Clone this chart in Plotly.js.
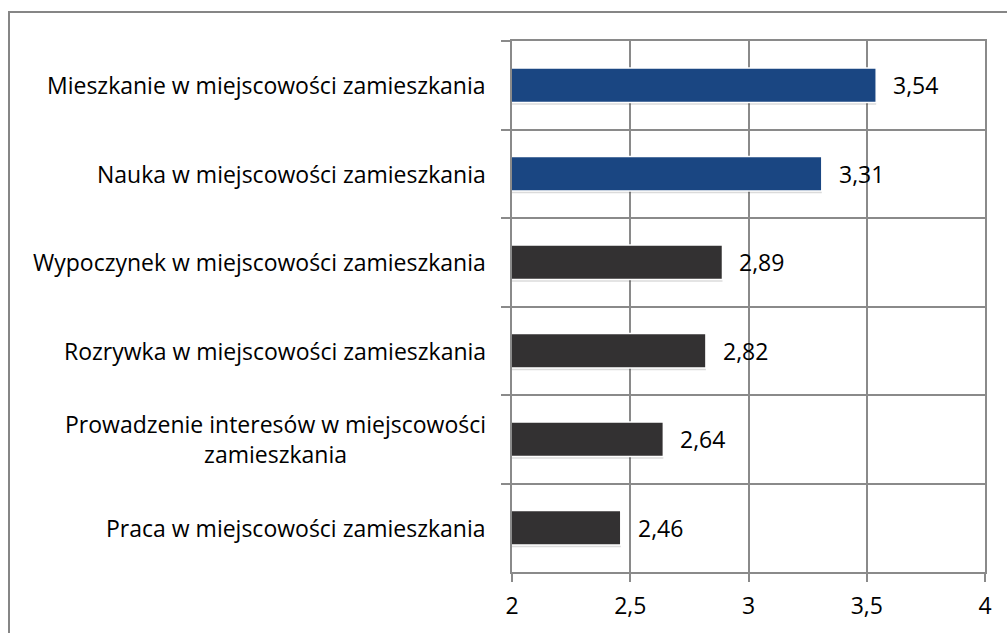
<!DOCTYPE html>
<html>
<head>
<meta charset="utf-8">
<script src="https://cdn.plot.ly/plotly-3.0.1.min.js"></script>
<style>html,body{margin:0;padding:0;background:#fff;}#chart{width:1007px;height:633px;}</style>
</head>
<body>
<div id="chart"></div>
<script>
const categories = [
  "Mieszkanie w miejscowości zamieszkania",
  "Nauka w miejscowości zamieszkania",
  "Wypoczynek w miejscowości zamieszkania",
  "Rozrywka w miejscowości zamieszkania",
  "Prowadzenie interesów w miejscowości<br>zamieszkania",
  "Praca w miejscowości zamieszkania"
];
const values = [3.54, 3.31, 2.89, 2.82, 2.64, 2.46];
const valueLabels = ["3,54", "3,31", "2,89", "2,82", "2,64", "2,46"];
const barColors = ["#1a4682", "#1a4682", "#333132", "#333132", "#333132", "#333132"];
const xTickVals = [2, 2.5, 3, 3.5, 4];
const xTickText = ["2", "2,5", "3", "3,5", "4"];

const FONT = "'Open Sans', 'Noto Sans', sans-serif";
const FS = 23;
const catIds = categories.map((c, i) => "c" + i);
const GRID = "#8a8a8a";

const shadow = {
  type: "bar", orientation: "h", y: catIds, x: values,
  marker: { color: "rgba(0,0,0,0.14)", line: { width: 0 } },
  width: 0.39, offset: -0.17, hoverinfo: "none"
};
const trace = {
  type: "bar",
  orientation: "h",
  y: catIds,
  x: values,
  marker: { color: barColors, line: { color: "#ffffff", width: 1.5 } },
  width: 0.39,
  hoverinfo: "none"
};

const annotations = [];
categories.forEach((c, i) => {
  annotations.push({
    xref: "paper", yref: "y", x: 0, y: catIds[i], xshift: -24,
    xanchor: "right", yanchor: "middle", align: "center",
    text: c, showarrow: false,
    font: { family: FONT, size: FS, color: "#000" }
  });
  annotations.push({
    xref: "x", yref: "y", x: values[i], y: catIds[i], xshift: 15,
    xanchor: "left", yanchor: "middle",
    text: valueLabels[i], showarrow: false,
    font: { family: FONT, size: FS, color: "#000" }
  });
});

const layout = {
  width: 1007, height: 633,
  margin: { l: 512, r: 22, t: 41, b: 61 },
  paper_bgcolor: "#fff", plot_bgcolor: "#fff",
  showlegend: false, barmode: "overlay",
  font: { family: FONT, size: FS, color: "#000" },
  xaxis: {
    range: [2, 4], tickvals: xTickVals, ticktext: xTickText,
    showgrid: true, gridcolor: GRID, gridwidth: 2,
    ticks: "outside", ticklen: 8, tickcolor: GRID, tickwidth: 2,
    ticklabelstandoff: 4,
    zeroline: false, showline: true, linecolor: GRID, linewidth: 2, mirror: true,
    fixedrange: true,
    tickfont: { family: FONT, size: FS, color: "#000" }
  },
  yaxis: {
    type: "category", autorange: "reversed",
    tickson: "boundaries", showgrid: true, gridcolor: GRID, gridwidth: 2,
    ticks: "outside", ticklen: 9, tickcolor: GRID, tickwidth: 2,
    showticklabels: false, zeroline: false,
    showline: true, linecolor: GRID, linewidth: 2, mirror: true, fixedrange: true
  },
  shapes: [{
    type: "rect", xref: "paper", yref: "paper",
    x0: (9 - 512) / 473, x1: (1015 - 512) / 473,
    y0: (572 - 645) / 531, y1: (572 - 12) / 531,
    line: { color: "#868686", width: 2 }, fillcolor: "rgba(0,0,0,0)", layer: "below"
  }],
  annotations: annotations
};

Plotly.newPlot("chart", [shadow, trace], layout, { staticPlot: true, displayModeBar: false });
</script>
</body>
</html>
